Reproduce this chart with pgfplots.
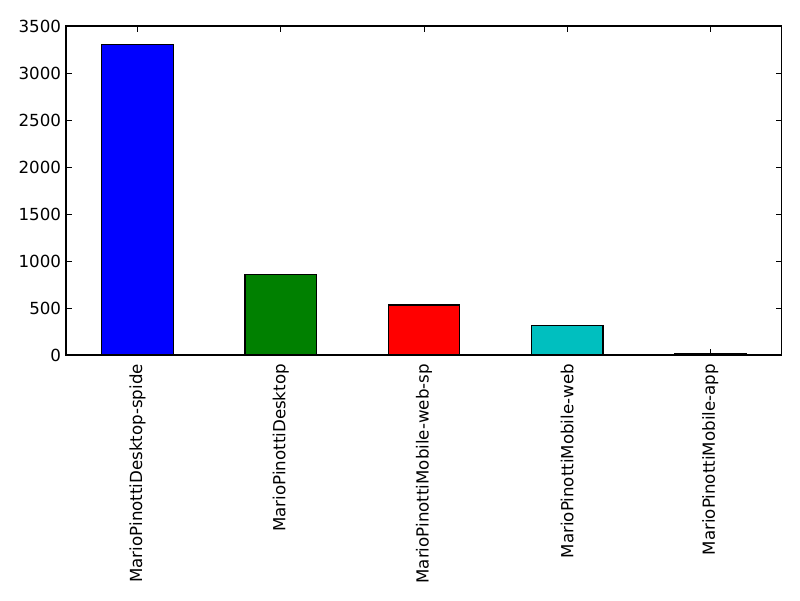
\documentclass[border=0pt]{standalone}
\usepackage{fontspec}
\setmainfont{DejaVu Sans}
\usepackage{pgfplots}
\pgfplotsset{compat=1.18}
\definecolor{mplgreen}{rgb}{0,0.5,0}
\definecolor{mplcyan}{rgb}{0,0.75,0.75}
\definecolor{mplmag}{rgb}{0.75,0,0.75}
\pgfplotsset{
    onebar/.style={ybar, bar width=0.5, bar shift=0pt, draw=black, line width=0.8pt}
}
\begin{document}
\begin{tikzpicture}
\path[use as bounding box] (-47.5pt,-176.4pt) rectangle (528.5pt,255.6pt);
\begin{axis}[
    at={(0,0)}, anchor=south west,
    width=515.5pt, height=236.9pt,
    scale only axis,
    xmin=-0.5, xmax=4.5,
    ymin=0, ymax=3500,
    xtick={0,1,2,3,4},
    xticklabels={MarioPinottiDesktop-spide, MarioPinottiDesktop, MarioPinottiMobile-web-sp, MarioPinottiMobile-web, MarioPinottiMobile-app},
    ytick={0,500,1000,1500,2000,2500,3000,3500},
    tick align=inside,
    major tick length=4pt,
    tick style={black, line width=0.6pt},
    axis line style={line width=0.8pt},
    xticklabel shift=3pt,
    xticklabel style={rotate=90, anchor=east, font=\fontsize{12}{14}\selectfont},
    yticklabel style={font=\fontsize{12}{14}\selectfont},
    /pgf/number format/assume math mode=true,
    /pgf/number format/1000 sep={},
]
\addplot[onebar, fill=blue] coordinates {(0,3305)};
\addplot[onebar, fill=mplgreen] coordinates {(1,858)};
\addplot[onebar, fill=red] coordinates {(2,532)};
\addplot[onebar, fill=mplcyan] coordinates {(3,316)};
\addplot[onebar, fill=mplmag] coordinates {(4,14)};
\end{axis}
\end{tikzpicture}
\end{document}
